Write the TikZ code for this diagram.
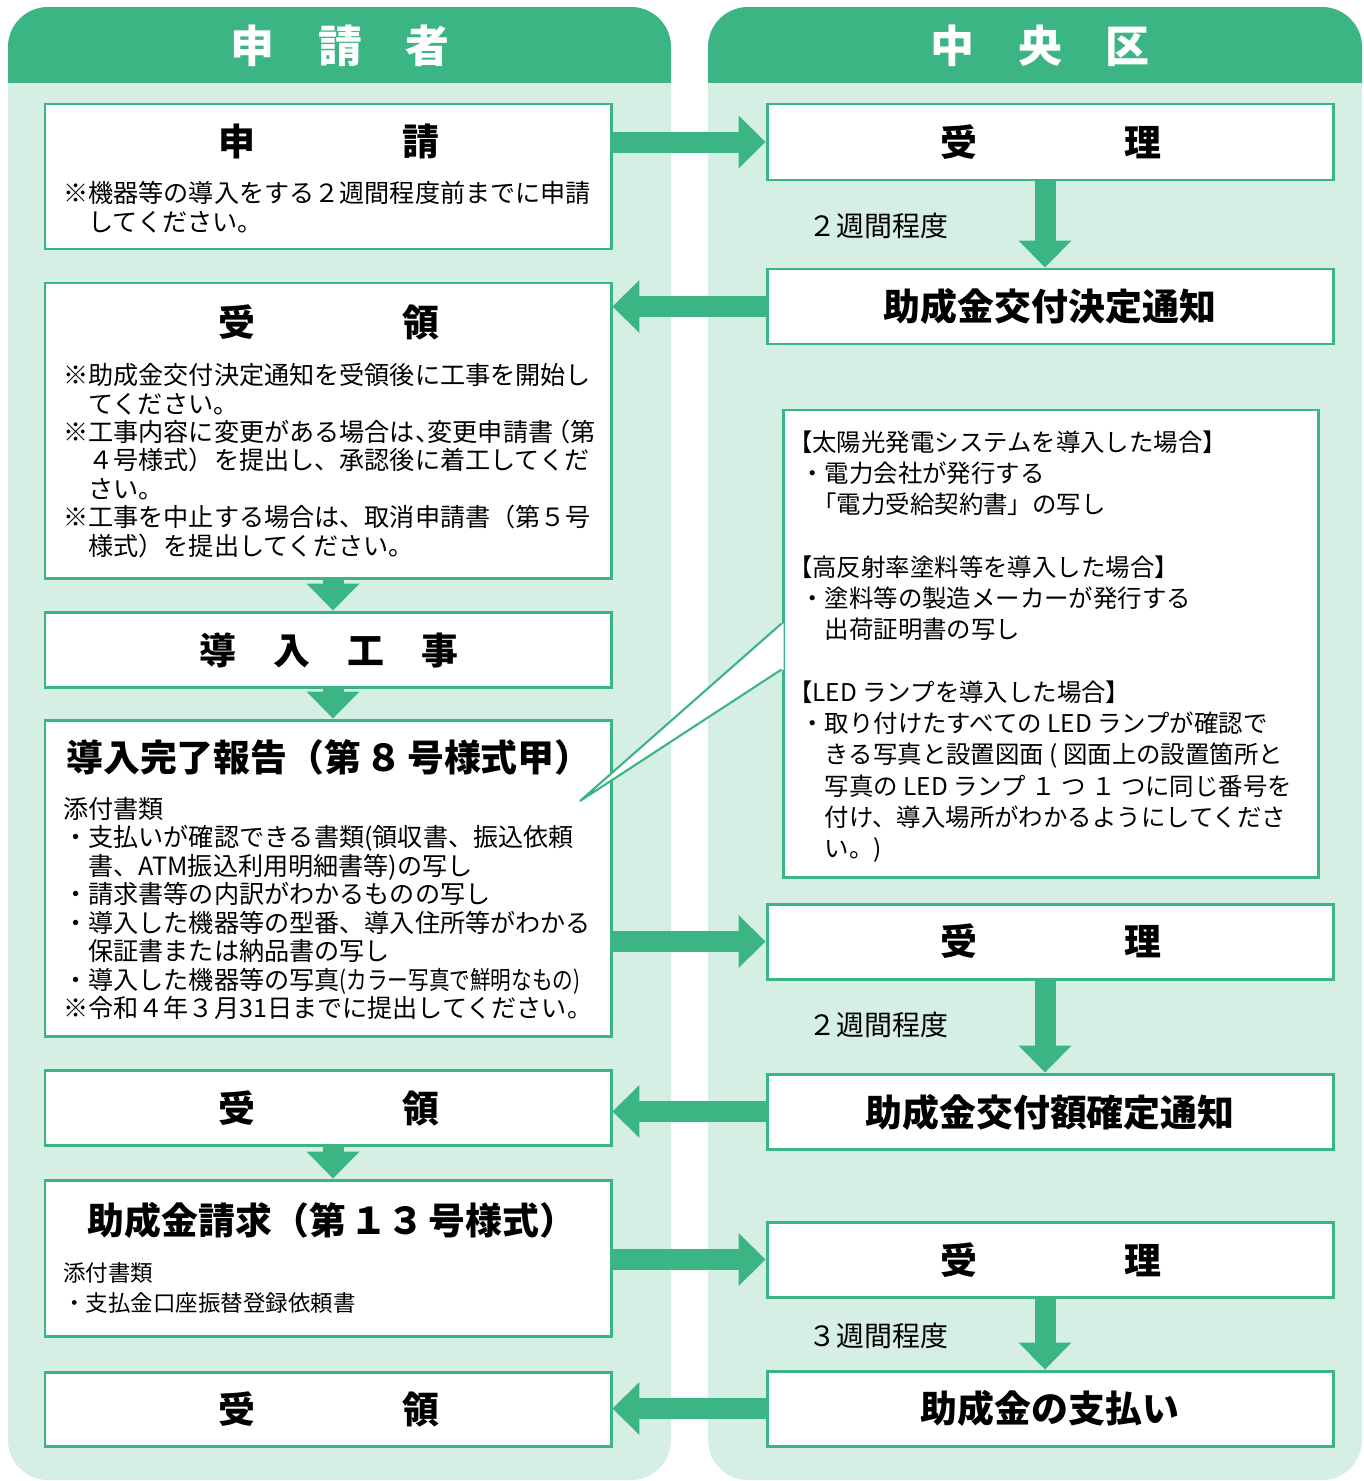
\documentclass[tikz,border=0pt]{standalone}
\usepackage{fontspec}
\setmainfont{Noto Sans CJK JP}
\usepackage{graphicx}
\usetikzlibrary{arrows.meta,calc,fit}

\definecolor{hdrgreen}{RGB}{60,181,132}
\definecolor{panelgreen}{RGB}{214,239,229}

\tikzset{
  box/.style={draw=hdrgreen, line width=1.7pt, fill=white, inner sep=0pt},
  head/.style={font=\fontsize{21}{24}\selectfont\bfseries, inner sep=0pt},
  title/.style={font=\fontsize{25}{28}\selectfont\bfseries, text=white, inner sep=0pt},
  body/.style={font=\fontsize{14.3}{16.2}\selectfont, align=left, anchor=north west, inner sep=0pt},
  smallbody/.style={font=\fontsize{12.8}{17}\selectfont, align=left, anchor=north west, inner sep=0pt},
  note/.style={font=\fontsize{13.9}{17.8}\selectfont, align=left, anchor=north west, inner sep=0pt},
  period/.style={font=\fontsize{15.9}{18}\selectfont, anchor=west, inner sep=0pt},
  flow/.style={draw=hdrgreen, line width=0.42cm, -{Triangle[length=0.54cm,width=1.06cm,line width=0pt]}},
}

\begin{document}
\begin{tikzpicture}[x=0.02cm, y=-0.02cm]
\useasboundingbox (0,0) rectangle (1363,1481);

% panels
\fill[panelgreen, rounded corners=0.8cm] (8,7) rectangle (671,1480);
\fill[panelgreen, rounded corners=0.8cm] (708,7) rectangle (1362,1480);
\begin{scope}
  \clip (0,0) rectangle (1363,82);
  \fill[hdrgreen, rounded corners=0.8cm] (8,7) rectangle (671,300);
  \fill[hdrgreen, rounded corners=0.8cm] (708,7) rectangle (1362,300);
\end{scope}
\node[title] (lt) at (340,46) {申　請　者};
\node[title] (rt) at (1040,46) {中　央　区};

% applicant side
\node[box, fit={(45,104) (611,249)}] (l1) {};
\node[head] (l1h) at (329,141) {申　　　　請};
\node[body] (l1t) at (63,181) {※機器等の導入をする２週間程度前までに申請\\
\hspace*{1em}してください。};

\node[box, fit={(45,283) (611,578)}] (l2) {};
\node[head] (l2h) at (329,322) {受　　　　領};
\node[body] (l2t) at (63,363) {※助成金交付決定通知を受領後に工事を開始し\\
\hspace*{1em}てください。\\
※工事内容に変更がある場合は、\kern-0.5em変更申請書\kern-0.3em（第\\
\hspace*{1em}４号様式）を提出し、承認後に着工してくだ\\
\hspace*{1em}さい。\\
※工事を中止する場合は、取消申請書（第５号\\
\hspace*{1em}様式）を提出してください。};

\node[box, fit={(45,612) (611,687)}] (l3) {};
\node[head] (l3h) at (329,650) {導　入　工　事};

\node[box, fit={(45,720) (611,1036)}] (l4) {};
\node[head] (l4h) at (329,757) {導入完了報告（第\hspace{0.12em}８\hspace{0.12em}号様式甲）};
\node[body] (l4t) at (63,797) {添付書類\\
・支払いが確認できる書類(領収書、振込依頼\\
\hspace*{1em}書、ATM振込利用明細書等)の写し\\
・請求書等の内訳がわかるものの写し\\
・導入した機器等の型番、導入住所等がわかる\\
\hspace*{1em}保証書または納品書の写し\\
・導入した機器等の写真\scalebox{0.82}[1]{(カラー写真で鮮明なもの)}\\
※令和４年３月31日までに提出してください。};

\node[box, fit={(45,1070) (611,1145)}] (l5) {};
\node[head] (l5h) at (329,1108) {受　　　　領};

\node[box, fit={(45,1180) (611,1336)}] (l6) {};
\node[head] (l6h) at (332,1220) {助成金請求（第\hspace{0.12em}１３\hspace{0.12em}号様式）};
\node[smallbody] (l6t) at (63,1262) {添付書類\\
・支払金口座振替登録依頼書};

\node[box, fit={(45,1372) (611,1446)}] (l7) {};
\node[head] (l7h) at (329,1409) {受　　　　領};

% ward side
\node[box, fit={(767,104) (1333,180)}] (r1) {};
\node[head] (r1h) at (1051,142) {受　　　　理};

\node[box, fit={(767,269) (1333,344)}] (r2) {};
\node[head] (r2h) at (1050,306) {助成金交付決定通知};

\node[box, fit={(783,410) (1318,877)}] (co) {};
\node[note] (cot) at (800,430) {\kern-0.5em【太陽光発電システムを導入した場合】\\
・電力会社が発行する\\
\hspace*{0.5em}「電力受給契約書」の写し\\[17.8pt]
\kern-0.5em【高反射率塗料等を導入した場合】\\
・塗料等の製造メーカーが発行する\\
\hspace*{1em}出荷証明書の写し\\[17.8pt]
\kern-0.5em【LED ランプを導入した場合】\\
・取り付けたすべての LED ランプが確認で\\
\hspace*{1em}きる写真と設置図面 ( 図面上の設置箇所と\\
\hspace*{1em}写真の LED ランプ １ つ １ つに同じ番号を\\
\hspace*{1em}付け、導入場所がわかるようにしてくださ\\
\hspace*{1em}い。)};

\node[box, fit={(767,904) (1333,979)}] (r4) {};
\node[head] (r4h) at (1051,941) {受　　　　理};

\node[box, fit={(767,1074) (1333,1149)}] (r5) {};
\node[head] (r5h) at (1050,1112) {助成金交付額確定通知};

\node[box, fit={(767,1222) (1333,1297)}] (r6) {};
\node[head] (r6h) at (1051,1260) {受　　　　理};

\node[box, fit={(767,1371) (1333,1446)}] (r7) {};
\node[head] (r7h) at (1050,1408) {助成金の支払い};

\node[period] (w1) at (808,226) {２週間程度};
\node[period] (w2) at (808,1025) {２週間程度};
\node[period] (w3) at (808,1336) {３週間程度};

% flow arrows
\draw[flow] (l1.east |- r1.west) -- (r1.west);
\draw[flow] (r2.west) -- (l2.east |- r2.west);
\draw[flow] (l4.east |- r4.west) -- (r4.west);
\draw[flow] (r5.west) -- (l5.east |- r5.west);
\draw[flow] (l6.east |- r6.west) -- (r6.west);
\draw[flow] (r7.west) -- (l7.east |- r7.west);

\draw[flow] ([xshift=-0.1cm]r1.south) -- ([xshift=-0.1cm]r2.north);
\draw[flow] ([xshift=-0.1cm]r4.south) -- ([xshift=-0.1cm]r5.north);
\draw[flow] ([xshift=-0.1cm]r6.south) -- ([xshift=-0.1cm]r7.north);

\draw[flow] ([xshift=0.1cm]l2.south) -- ([xshift=0.1cm]l3.north);
\draw[flow] ([xshift=0.1cm]l3.south) -- ([xshift=0.1cm]l4.north);
\draw[flow] ([xshift=0.1cm]l5.south) -- ([xshift=0.1cm]l6.north);

% callout tail
\coordinate (tip) at (580,801);
\fill[white] ($(co.north west)+(2,215)$) -- (tip) -- ($(co.north west)+(2,261)$) -- cycle;
\draw[hdrgreen, line width=1.2pt] ($(co.north west)+(0,215)$) -- (tip) -- ($(co.north west)+(0,261)$);

\end{tikzpicture}
\end{document}
